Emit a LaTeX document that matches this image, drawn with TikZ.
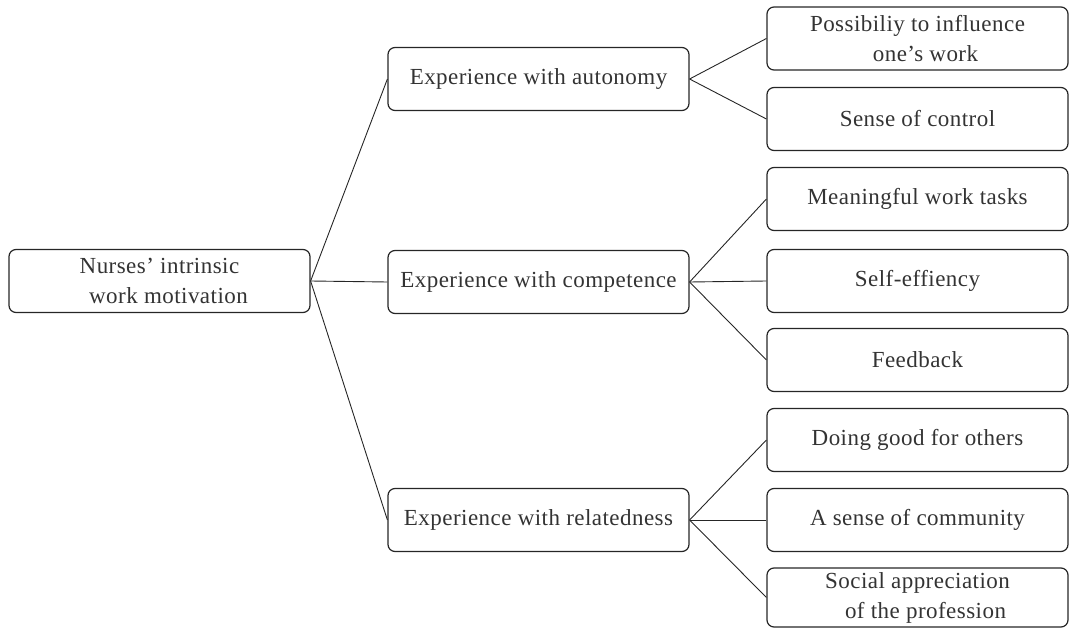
\documentclass[tikz,border=0pt]{standalone}
\usepackage{fontspec}
\setmainfont{Liberation Serif}[LetterSpace=2]
\begin{document}
\begin{tikzpicture}[x=1pt,y=-1pt,
  box/.style={draw=black!85, line width=1.2pt, rounded corners=7pt, minimum width=301pt, minimum height=63pt, inner sep=0pt, align=center, text=black!80, font=\fontsize{23}{30}\selectfont},
  link/.style={draw=black!85, line width=0.9pt}]
\useasboundingbox (0,0) rectangle (1071,628);
\node[box] (root) at (159.5,281) {Nurses' intrinsic\\\hspace*{18pt}work motivation};
\node[box] (auto) at (538.5,79) {Experience with autonomy};
\node[box] (comp) at (538.5,282) {Experience with competence};
\node[box] (rel) at (538.5,520) {Experience with relatedness};
\node[box] (r1) at (917.5,38.5) {Possibiliy to influence\\\hspace*{16pt}one's work};
\node[box] (r2) at (917.5,119) {Sense of control};
\node[box] (r3) at (917.5,199) {Meaningful work tasks};
\node[box] (r4) at (917.5,281) {Self-effiency};
\node[box] (r5) at (917.5,360) {Feedback};
\node[box] (r6) at (917.5,440) {Doing good for others};
\node[box] (r7) at (917.5,520) {A sense of community};
\node[box, minimum height=59pt] (r8) at (917.5,597.5) {Social appreciation\\\hspace*{16pt}of the profession};
\draw[link] (root.east) -- (auto.west);
\draw[link] (root.east) -- (comp.west);
\draw[link] (root.east) -- (rel.west);
\draw[link] (auto.east) -- (r1.west);
\draw[link] (auto.east) -- (r2.west);
\draw[link] (comp.east) -- (r3.west);
\draw[link] (comp.east) -- (r4.west);
\draw[link] (comp.east) -- (r5.west);
\draw[link] (rel.east) -- (r6.west);
\draw[link] (rel.east) -- (r7.west);
\draw[link] (rel.east) -- (r8.west);
\end{tikzpicture}
\end{document}
